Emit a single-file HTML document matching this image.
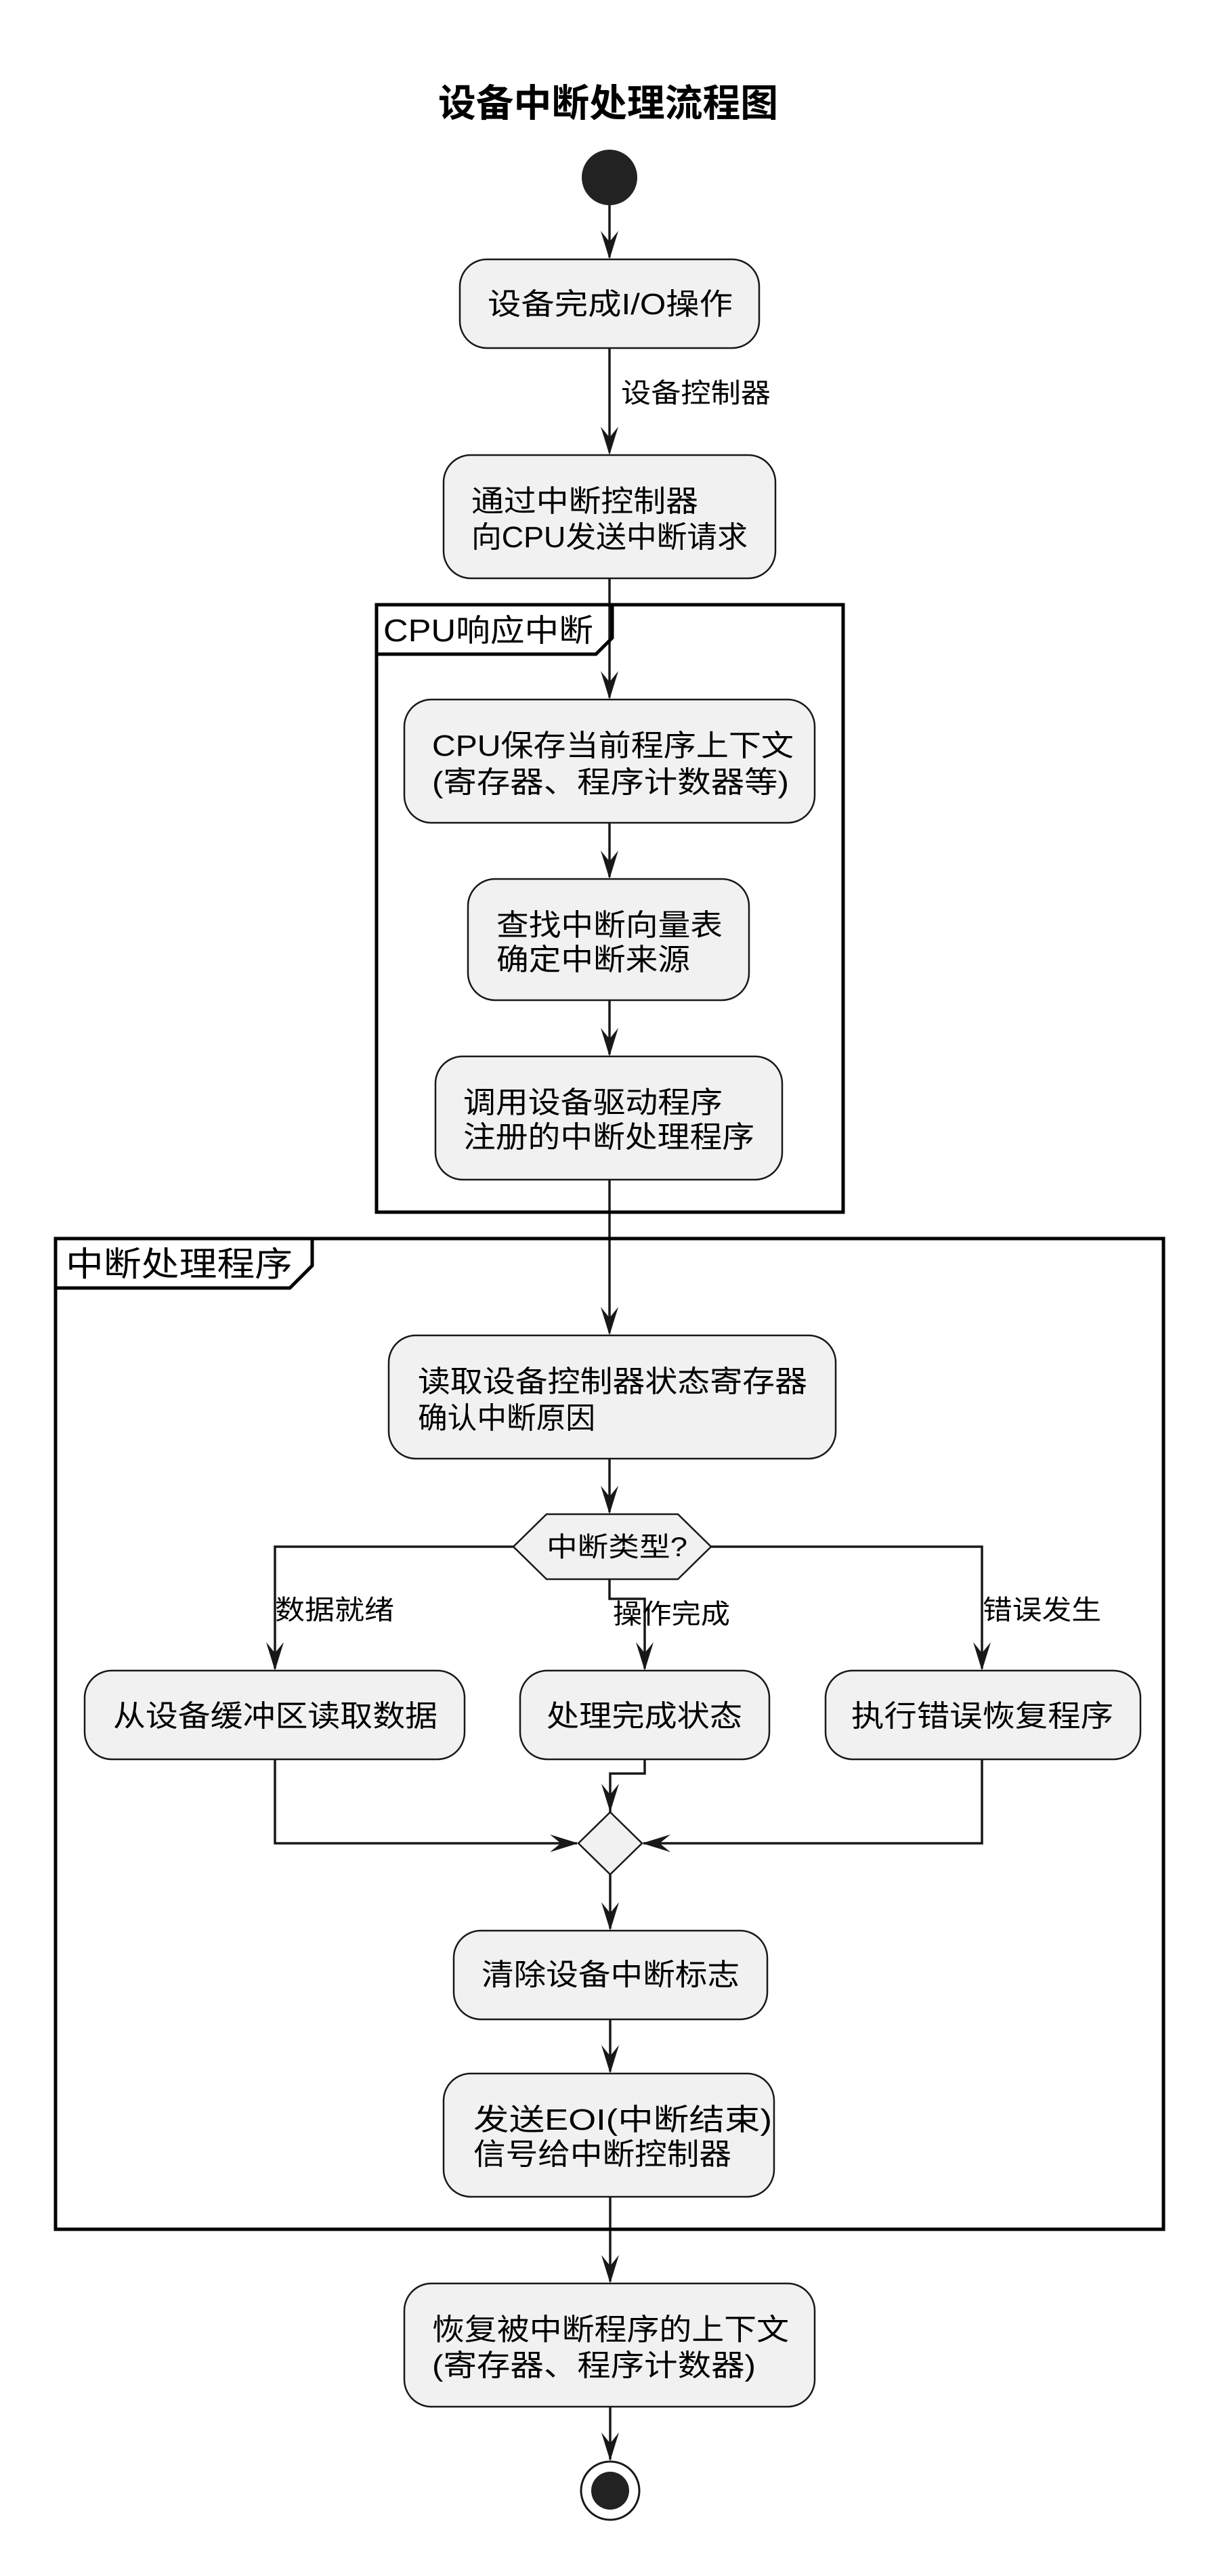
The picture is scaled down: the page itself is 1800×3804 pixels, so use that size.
<!DOCTYPE html>
<html><head><meta charset="utf-8"><style>
html,body{margin:0;padding:0;background:#fff;}
svg{display:block;}
text{font-family:"Liberation Sans","Noto Sans CJK SC",sans-serif;fill:#000;}
</style></head><body>
<svg width="1800" height="3804" viewBox="0 0 1800 3804" xmlns="http://www.w3.org/2000/svg">
<defs>
<path id="ah" d="M0,0 L-13,-42 L0,-26 L13,-42 Z" fill="#181818"/>
<path id="ahr" d="M0,0 L-42,-13 L-26,0 L-42,13 Z" fill="#181818"/>
<path id="ahl" d="M0,0 L42,-13 L26,0 L42,13 Z" fill="#181818"/>
</defs>
<g font-size="44">
<text x="898" y="172" text-anchor="middle" font-size="56" font-weight="bold" textLength="502" lengthAdjust="spacingAndGlyphs">设备中断处理流程图</text>

<circle cx="900" cy="262" r="41" fill="#222"/>

<g stroke="#181818" stroke-width="3.5" fill="none">
<line x1="900" y1="303" x2="900" y2="380"/>
<line x1="900" y1="514" x2="900" y2="668"/>
<line x1="900" y1="854" x2="900" y2="1030"/>
<line x1="900" y1="1215" x2="900" y2="1295"/>
<line x1="900" y1="1477" x2="900" y2="1557"/>
<line x1="900" y1="1742" x2="900" y2="1968"/>
<line x1="900" y1="2154" x2="900" y2="2233"/>
<polyline points="758,2284 406,2284 406,2464"/>
<polyline points="900,2332 900,2361 952,2361 952,2464"/>
<polyline points="1050,2284 1450,2284 1450,2464"/>
<polyline points="952,2598 952,2619 901,2619 901,2676"/>
<polyline points="406,2598 406,2722 852,2722"/>
<polyline points="1450,2598 1450,2722 950,2722"/>
<line x1="901" y1="2768" x2="901" y2="2848"/>
<line x1="901" y1="2982" x2="901" y2="3059"/>
<line x1="901" y1="3244" x2="901" y2="3369"/>
<line x1="901" y1="3554" x2="901" y2="3632"/>
</g>
<use href="#ah" x="900" y="383"/>
<use href="#ah" x="900" y="672"/>
<use href="#ah" x="900" y="1033"/>
<use href="#ah" x="900" y="1298"/>
<use href="#ah" x="900" y="1560"/>
<use href="#ah" x="900" y="1972"/>
<use href="#ah" x="900" y="2236"/>
<use href="#ah" x="406" y="2467"/>
<use href="#ah" x="952" y="2467"/>
<use href="#ah" x="1450" y="2467"/>
<use href="#ah" x="901" y="2676"/>
<use href="#ahr" x="854" y="2722"/>
<use href="#ahl" x="948" y="2722"/>
<use href="#ah" x="901" y="2851"/>
<use href="#ah" x="901" y="3062"/>
<use href="#ah" x="901" y="3372"/>
<use href="#ah" x="901" y="3634"/>

<!-- frames -->
<g stroke="#000" stroke-width="5" fill="none">
<rect x="556" y="893" width="689" height="897"/>
<polyline points="556,966 880,966 904,942 904,893"/>
<rect x="82" y="1829" width="1636" height="1463"/>
<polyline points="82,1902 428,1902 461,1869 461,1829"/>
</g>
<text x="566" y="947" font-size="46" textLength="310" lengthAdjust="spacingAndGlyphs">CPU响应中断</text>
<text x="97" y="1884" font-size="50" textLength="335" lengthAdjust="spacingAndGlyphs">中断处理程序</text>

<g fill="#F1F1F1" stroke="#181818" stroke-width="2.5">
<rect x="679" y="383" width="442" height="131" rx="40"/>
<rect x="655" y="672" width="490" height="182" rx="40"/>
<rect x="597" y="1033" width="606" height="182" rx="40"/>
<rect x="691" y="1298" width="415" height="179" rx="40"/>
<rect x="643" y="1560" width="512" height="182" rx="40"/>
<rect x="574" y="1972" width="660" height="182" rx="40"/>
<polygon points="758,2284 807,2236 1001,2236 1050,2284 1001,2332 807,2332"/>
<rect x="125" y="2467" width="561" height="131" rx="40"/>
<rect x="768" y="2467" width="368" height="131" rx="40"/>
<rect x="1219" y="2467" width="465" height="131" rx="40"/>
<polygon points="901,2676 948,2722 901,2768 854,2722"/>
<rect x="670" y="2851" width="463" height="131" rx="40"/>
<rect x="655" y="3062" width="488" height="182" rx="40"/>
<rect x="597" y="3372" width="606" height="182" rx="40"/>
</g>

<text x="720" y="464" textLength="362" lengthAdjust="spacingAndGlyphs">设备完成I/O操作</text>
<text x="917" y="594" font-size="40" textLength="221" lengthAdjust="spacingAndGlyphs">设备控制器</text>
<text x="696" y="755" textLength="335" lengthAdjust="spacingAndGlyphs">通过中断控制器</text>
<text x="696" y="808" textLength="408" lengthAdjust="spacingAndGlyphs">向CPU发送中断请求</text>
<text x="638" y="1116" textLength="534" lengthAdjust="spacingAndGlyphs">CPU保存当前程序上下文</text>
<text x="638" y="1170" textLength="527" lengthAdjust="spacingAndGlyphs">(寄存器、程序计数器等)</text>
<text x="733" y="1381" textLength="334" lengthAdjust="spacingAndGlyphs">查找中断向量表</text>
<text x="733" y="1432" textLength="286" lengthAdjust="spacingAndGlyphs">确定中断来源</text>
<text x="684" y="1643" textLength="383" lengthAdjust="spacingAndGlyphs">调用设备驱动程序</text>
<text x="684" y="1694" textLength="430" lengthAdjust="spacingAndGlyphs">注册的中断处理程序</text>
<text x="617" y="2055" textLength="575" lengthAdjust="spacingAndGlyphs">读取设备控制器状态寄存器</text>
<text x="617" y="2109" textLength="262" lengthAdjust="spacingAndGlyphs">确认中断原因</text>
<text x="807" y="2298" font-size="40" textLength="208" lengthAdjust="spacingAndGlyphs">中断类型?</text>
<text x="406" y="2391" font-size="40" textLength="176" lengthAdjust="spacingAndGlyphs">数据就绪</text>
<text x="905" y="2397" font-size="40" textLength="173" lengthAdjust="spacingAndGlyphs">操作完成</text>
<text x="1451" y="2391" font-size="40" textLength="175" lengthAdjust="spacingAndGlyphs">错误发生</text>
<text x="167" y="2549" textLength="479" lengthAdjust="spacingAndGlyphs">从设备缓冲区读取数据</text>
<text x="807" y="2549" textLength="289" lengthAdjust="spacingAndGlyphs">处理完成状态</text>
<text x="1257" y="2549" textLength="387" lengthAdjust="spacingAndGlyphs">执行错误恢复程序</text>
<text x="711" y="2931" textLength="381" lengthAdjust="spacingAndGlyphs">清除设备中断标志</text>
<text x="699" y="3145" textLength="441" lengthAdjust="spacingAndGlyphs">发送EOI(中断结束)</text>
<text x="699" y="3196" textLength="381" lengthAdjust="spacingAndGlyphs">信号给中断控制器</text>
<text x="638" y="3455" textLength="527" lengthAdjust="spacingAndGlyphs">恢复被中断程序的上下文</text>
<text x="638" y="3508" textLength="478" lengthAdjust="spacingAndGlyphs">(寄存器、程序计数器)</text>

<circle cx="901" cy="3678" r="43" fill="#fff" stroke="#181818" stroke-width="3"/>
<circle cx="901" cy="3678" r="28" fill="#222"/>
</g>
</svg>
</body></html>
